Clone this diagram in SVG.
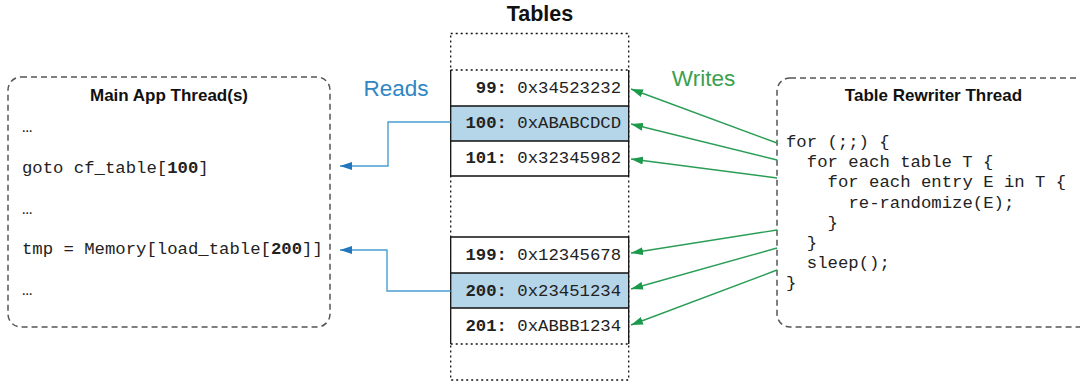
<svg xmlns="http://www.w3.org/2000/svg" width="1080" height="384" viewBox="0 0 1080 384">
<defs>
<style>
.box{fill:#fff;stroke:#555;stroke-width:1.5;stroke-dasharray:6,4}
.title{font-family:"Liberation Sans",Arial,sans-serif;font-weight:bold;font-size:17px;fill:#111;text-anchor:middle}
.code{font-family:"Liberation Mono","Courier New",monospace;font-size:17.3px;fill:#222}
.row{font-family:"Liberation Mono","Courier New",monospace;font-size:17.3px;fill:#222;text-anchor:end}
.b{font-weight:bold}
.solid{stroke:#111;stroke-width:1.3;fill:none}
.dot{stroke:#111;stroke-width:1.3;fill:none;stroke-dasharray:2,3}
.blue{stroke:#4a9fd2;stroke-width:1.4;fill:none}
.green{stroke:#2a9d55;stroke-width:1.4;fill:none}
</style>
<marker id="ab" viewBox="0 0 12 8" refX="12" refY="4" markerUnits="userSpaceOnUse" markerWidth="12" markerHeight="8" orient="auto"><path d="M0,0 L12,4 L0,8 z" fill="#2277bb"/></marker>
<marker id="ag" viewBox="0 0 12 8" refX="12" refY="4" markerUnits="userSpaceOnUse" markerWidth="12" markerHeight="8" orient="auto"><path d="M0,0 L12,4 L0,8 z" fill="#1a9a4a"/></marker>
</defs>
<rect width="1080" height="384" fill="#fff"/>

<g id="main-app-thread">
<rect class="box" x="8" y="77" width="322" height="250" rx="13"/>
<text class="title" x="169" y="101">Main App Thread(s)</text>
<text class="code" x="22" y="132">…</text>
<text class="code" x="22" y="173">goto cf_table[<tspan class="b">100</tspan>]</text>
<text class="code" x="22" y="213.5">…</text>
<text class="code" x="22" y="254">tmp = Memory[load_table[<tspan class="b">200</tspan>]]</text>
<text class="code" x="22" y="294.5">…</text>
</g>

<g id="tables">
<text x="540" y="21" font-family="Liberation Sans,Arial,sans-serif" font-weight="bold" font-size="21.5" fill="#111" text-anchor="middle">Tables</text>
<rect class="dot" x="450.7" y="33.5" width="178" height="346.5"/>
<rect x="450.7" y="70" width="178" height="36" fill="#fff"/>
<rect x="450.7" y="106" width="178" height="35" fill="#b5d5e8"/>
<rect x="450.7" y="141" width="178" height="35" fill="#fff"/>
<rect x="450.7" y="237" width="178" height="36" fill="#fff"/>
<rect x="450.7" y="273" width="178" height="35" fill="#b5d5e8"/>
<rect x="450.7" y="308" width="178" height="36" fill="#fff"/>
<line class="dot" x1="450.7" y1="70" x2="628.7" y2="70"/>
<path class="solid" d="M450.7,70 V176 M628.7,70 V176 M450.7,106 H628.7 M450.7,141 H628.7 M450.7,176 H628.7"/>
<path class="solid" d="M450.7,237 V344 M628.7,237 V344 M450.7,237 H628.7 M450.7,273 H628.7 M450.7,308 H628.7"/>
<line class="dot" x1="450.7" y1="344" x2="628.7" y2="344"/>
<text class="row" x="621" y="93"><tspan class="b">99:</tspan> 0x34523232</text>
<text class="row" x="621" y="128"><tspan class="b">100:</tspan> 0xABABCDCD</text>
<text class="row" x="621" y="163"><tspan class="b">101:</tspan> 0x32345982</text>
<text class="row" x="621" y="259.5"><tspan class="b">199:</tspan> 0x12345678</text>
<text class="row" x="621" y="295.5"><tspan class="b">200:</tspan> 0x23451234</text>
<text class="row" x="621" y="331"><tspan class="b">201:</tspan> 0xABBB1234</text>
</g>

<g id="table-rewriter-thread">
<rect class="box" x="777" y="78" width="330" height="249" rx="13"/>
<text class="title" x="933.5" y="101">Table Rewriter Thread</text>
<text class="code" x="786" y="147">for (;;) {</text>
<text class="code" x="806.8" y="167.2">for each table T {</text>
<text class="code" x="827.6" y="187.4">for each entry E in T {</text>
<text class="code" x="848.4" y="207.6">re-randomize(E);</text>
<text class="code" x="827.6" y="227.8">}</text>
<text class="code" x="806.8" y="248">}</text>
<text class="code" x="806.8" y="268.2">sleep();</text>
<text class="code" x="786" y="288.4">}</text>
</g>

<g id="labels">
<text x="396" y="96" font-family="Liberation Sans,Arial,sans-serif" font-size="22.5" fill="#2f86c4" text-anchor="middle">Reads</text>
<text x="703.5" y="86" font-family="Liberation Sans,Arial,sans-serif" font-size="22.5" fill="#3aa04e" text-anchor="middle">Writes</text>
</g>

<g id="connectors">
<path class="blue" d="M450.7,122 H388 V166 H340" marker-end="url(#ab)"/>
<path class="blue" d="M450.7,291 H387 V250 H340" marker-end="url(#ab)"/>
<line class="green" x1="777" y1="143" x2="631" y2="89" marker-end="url(#ag)"/>
<line class="green" x1="777" y1="160" x2="631" y2="124" marker-end="url(#ag)"/>
<line class="green" x1="777" y1="178" x2="631" y2="159" marker-end="url(#ag)"/>
<line class="green" x1="777" y1="230" x2="631" y2="253" marker-end="url(#ag)"/>
<line class="green" x1="777" y1="248" x2="631" y2="289" marker-end="url(#ag)"/>
<line class="green" x1="777" y1="270" x2="631" y2="325" marker-end="url(#ag)"/>
</g>
</svg>
